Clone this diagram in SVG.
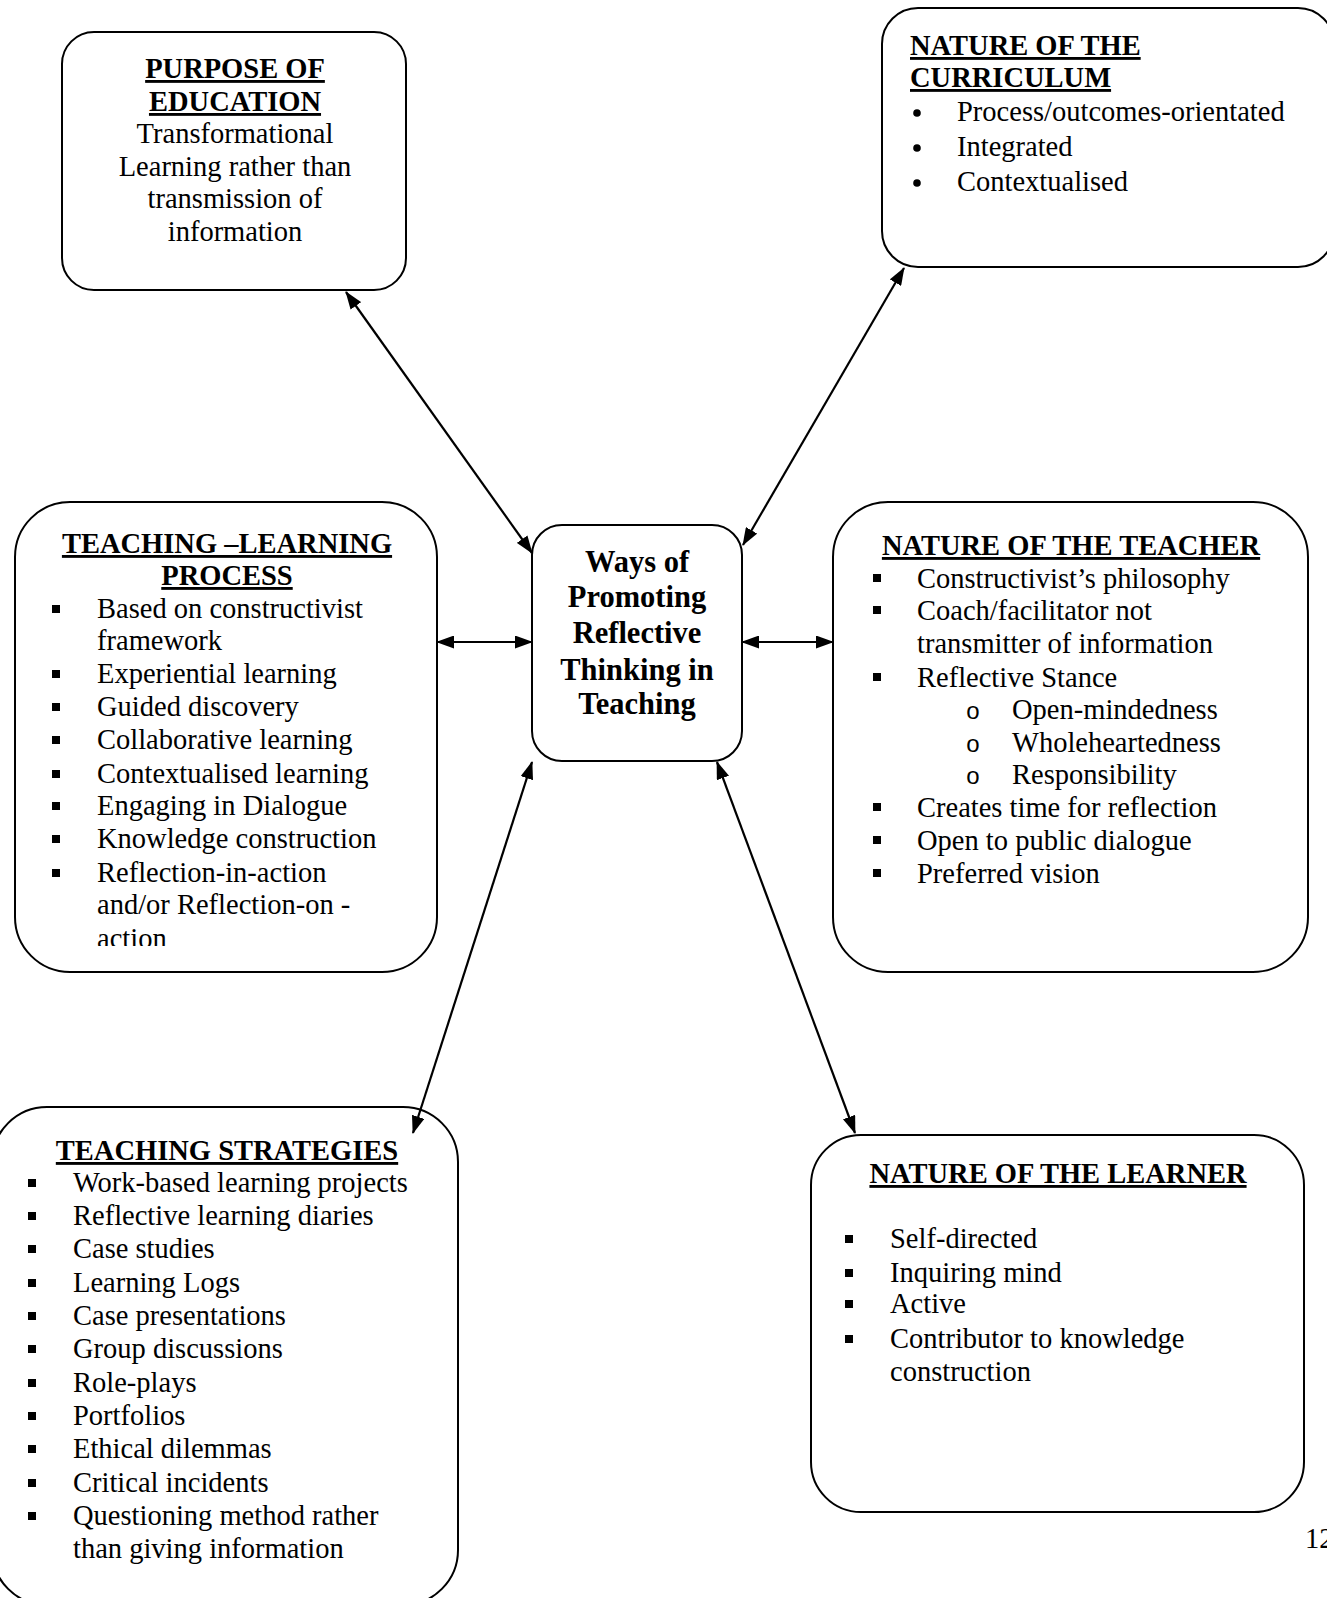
<svg xmlns="http://www.w3.org/2000/svg" width="1327" height="1598" viewBox="0 0 1327 1598">
<style>
.box{fill:#fff;stroke:#000;stroke-width:2}
.t{font-family:"Liberation Serif","Times New Roman",serif;font-size:28.5px;fill:#000}
.h{font-weight:bold;text-decoration:underline}
.m{text-anchor:middle}
.c{font-family:"Liberation Serif","Times New Roman",serif;font-weight:bold;font-size:30.5px;text-anchor:middle;fill:#000}
.conn line{stroke:#000;stroke-width:2.2;marker-start:url(#ah);marker-end:url(#ah)}
.sq{fill:#000}
.o{font-family:"Liberation Sans",Arial,sans-serif;font-size:24px;text-anchor:middle;fill:#000}
</style>
<defs>
<marker id="ah" markerUnits="userSpaceOnUse" markerWidth="18" markerHeight="13" viewBox="0 0 18 13" refX="17" refY="6.5" orient="auto-start-reverse">
<path d="M0,0 L18,6.5 L0,13 z" fill="#000"/>
</marker>
<rect id="b" x="-4" y="-4" width="8" height="8" class="sq"/>
<clipPath id="clipTL"><rect x="0" y="490" width="450" height="456"/></clipPath>
</defs>

<g id="purpose">
<rect class="box" x="62" y="32" width="344" height="258" rx="32"/>
<text class="t h m" x="235" y="78">PURPOSE OF</text>
<text class="t h m" x="235" y="111">EDUCATION</text>
<text class="t m" x="235" y="143">Transformational</text>
<text class="t m" x="235" y="176">Learning rather than</text>
<text class="t m" x="235" y="208">transmission of</text>
<text class="t m" x="235" y="241">information</text>
</g>

<g id="curriculum">
<rect class="box" x="882" y="8" width="452" height="259" rx="36"/>
<text class="t h" x="910" y="55">NATURE OF THE</text>
<text class="t h" x="910" y="87">CURRICULUM</text>
<circle cx="917" cy="113" r="3.8"/>
<circle cx="917" cy="148" r="3.8"/>
<circle cx="917" cy="183" r="3.8"/>
<text class="t" x="957" y="121">Process/outcomes-orientated</text>
<text class="t" x="957" y="156">Integrated</text>
<text class="t" x="957" y="191">Contextualised</text>
</g>

<g id="teaching-learning">
<rect class="box" x="15" y="502" width="422" height="470" rx="55"/>
<text class="t h m" x="227" y="553">TEACHING –LEARNING</text>
<text class="t h m" x="227" y="585">PROCESS</text>
<use href="#b" x="56" y="609"/>
<use href="#b" x="56" y="674"/>
<use href="#b" x="56" y="707"/>
<use href="#b" x="56" y="740"/>
<use href="#b" x="56" y="774"/>
<use href="#b" x="56" y="806"/>
<use href="#b" x="56" y="839"/>
<use href="#b" x="56" y="873"/>
<text class="t" x="97" y="618">Based on constructivist</text>
<text class="t" x="97" y="650">framework</text>
<text class="t" x="97" y="683">Experiential learning</text>
<text class="t" x="97" y="716">Guided discovery</text>
<text class="t" x="97" y="749">Collaborative learning</text>
<text class="t" x="97" y="783">Contextualised learning</text>
<text class="t" x="97" y="815">Engaging in Dialogue</text>
<text class="t" x="97" y="848">Knowledge construction</text>
<text class="t" x="97" y="882">Reflection-in-action</text>
<text class="t" x="97" y="914">and/or Reflection-on -</text>
<text class="t" x="97" y="948" clip-path="url(#clipTL)">action</text>
</g>

<g id="center">
<rect class="box" x="532" y="525" width="210" height="236" rx="30"/>
<text class="c" x="637" y="572">Ways of</text>
<text class="c" x="637" y="607">Promoting</text>
<text class="c" x="637" y="643">Reflective</text>
<text class="c" x="637" y="680">Thinking in</text>
<text class="c" x="637" y="714">Teaching</text>
</g>

<g id="teacher">
<rect class="box" x="833" y="502" width="475" height="470" rx="55"/>
<text class="t h m" x="1071" y="555">NATURE OF THE TEACHER</text>
<use href="#b" x="877" y="578"/>
<use href="#b" x="877" y="610"/>
<use href="#b" x="877" y="677"/>
<use href="#b" x="877" y="807"/>
<use href="#b" x="877" y="840"/>
<use href="#b" x="877" y="873"/>
<text class="t" x="917" y="588">Constructivist’s philosophy</text>
<text class="t" x="917" y="620">Coach/facilitator not</text>
<text class="t" x="917" y="653">transmitter of information</text>
<text class="t" x="917" y="687">Reflective Stance</text>
<text class="o" x="973" y="719">o</text>
<text class="o" x="973" y="752">o</text>
<text class="o" x="973" y="784">o</text>
<text class="t" x="1012" y="719">Open-mindedness</text>
<text class="t" x="1012" y="752">Wholeheartedness</text>
<text class="t" x="1012" y="784">Responsibility</text>
<text class="t" x="917" y="817">Creates time for reflection</text>
<text class="t" x="917" y="850">Open to public dialogue</text>
<text class="t" x="917" y="883">Preferred vision</text>
</g>

<g id="strategies">
<rect class="box" x="-8" y="1107" width="466" height="498" rx="55"/>
<text class="t h m" x="227" y="1160">TEACHING STRATEGIES</text>
<use href="#b" x="32" y="1183"/>
<use href="#b" x="32" y="1216"/>
<use href="#b" x="32" y="1249"/>
<use href="#b" x="32" y="1283"/>
<use href="#b" x="32" y="1316"/>
<use href="#b" x="32" y="1349"/>
<use href="#b" x="32" y="1383"/>
<use href="#b" x="32" y="1416"/>
<use href="#b" x="32" y="1449"/>
<use href="#b" x="32" y="1483"/>
<use href="#b" x="32" y="1516"/>
<text class="t" x="73" y="1192">Work-based learning projects</text>
<text class="t" x="73" y="1225">Reflective learning diaries</text>
<text class="t" x="73" y="1258">Case studies</text>
<text class="t" x="73" y="1292">Learning Logs</text>
<text class="t" x="73" y="1325">Case presentations</text>
<text class="t" x="73" y="1358">Group discussions</text>
<text class="t" x="73" y="1392">Role-plays</text>
<text class="t" x="73" y="1425">Portfolios</text>
<text class="t" x="73" y="1458">Ethical dilemmas</text>
<text class="t" x="73" y="1492">Critical incidents</text>
<text class="t" x="73" y="1525">Questioning method rather</text>
<text class="t" x="73" y="1558">than giving information</text>
</g>

<g id="learner">
<rect class="box" x="811" y="1135" width="493" height="377" rx="50"/>
<text class="t h m" x="1058" y="1183">NATURE OF THE LEARNER</text>
<use href="#b" x="849" y="1239"/>
<use href="#b" x="849" y="1273"/>
<use href="#b" x="849" y="1304"/>
<use href="#b" x="849" y="1339"/>
<text class="t" x="890" y="1248">Self-directed</text>
<text class="t" x="890" y="1282">Inquiring mind</text>
<text class="t" x="890" y="1313">Active</text>
<text class="t" x="890" y="1348">Contributor to knowledge</text>
<text class="t" x="890" y="1381">construction</text>
</g>

<g id="connectors" class="conn">
<line x1="346" y1="292" x2="532" y2="553"/>
<line x1="904" y1="268" x2="743" y2="545"/>
<line x1="437" y1="642" x2="532" y2="642"/>
<line x1="742" y1="642" x2="833" y2="642"/>
<line x1="532" y1="762" x2="413" y2="1133"/>
<line x1="717" y1="762" x2="855" y2="1133"/>
</g>

<text class="t" x="1305" y="1548">12</text>
</svg>
